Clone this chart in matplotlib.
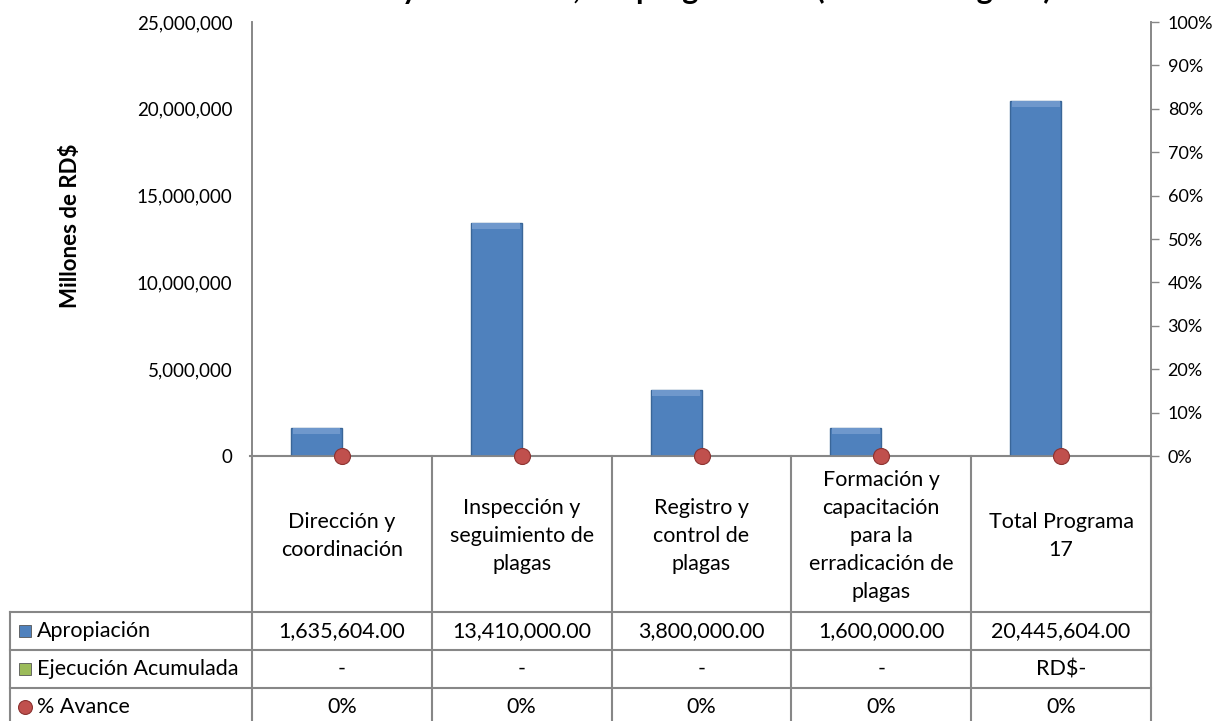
import matplotlib.pyplot as plt
from matplotlib.lines import Line2D
from matplotlib.patches import Rectangle

plt.rcParams['font.family'] = ['Lato', 'DejaVu Sans']

# data
categories = ["Dirección y\ncoordinación", "Inspección y\nseguimiento de\nplagas",
              "Registro y\ncontrol de\nplagas",
              "Formación y\ncapacitación\npara la\nerradicación de\nplagas",
              "Total Programa\n17"]
apropiacion = [1635604.00, 13410000.00, 3800000.00, 1600000.00, 20445604.00]
ejecucion = [0, 0, 0, 0, 0]
ejecucion_labels = ["-", "-", "-", "-", "RD$-"]
avance = [0.0, 0.0, 0.0, 0.0, 0.0]
series_names = ["Apropiación", "Ejecución Acumulada", "% Avance"]
title = "Metas físicas y financieras, del programa 17 (Sanidad Vegetal)"

W, H = 1220, 721
fig = plt.figure(figsize=(W / 100, H / 100), dpi=100)

def fx(px):
    return px / W

def fy(py):
    return 1 - py / H

grey = "#878787"
blue = "#4F81BD"
green = "#9BBB59"
red = "#C0504D"

x_left, x_right, y_top, y_zero = 252, 1151, 22, 456
ax = fig.add_axes([fx(x_left), fy(y_zero), fx(x_right - x_left), (y_zero - y_top) / H])
ax2 = ax.twinx()

n = len(categories)
xs = list(range(n))
w = 0.283
bevel = 350000
ax.bar([x - w / 2 for x in xs], apropiacion, width=w, color=blue,
       edgecolor="#3A6698", linewidth=1.0, zorder=3)
# lighter bevel strip along the top of each bar
ax.bar([x - w / 2 for x in xs], [bevel] * n,
       bottom=[v - bevel for v in apropiacion], width=w * 0.94,
       color="#6F98CC", linewidth=0, zorder=4)
ax.bar([x + w / 2 for x in xs], ejecucion, width=w, color=green,
       edgecolor="#71893F", linewidth=0, zorder=3)
ax2.plot(xs, avance, linestyle="none", marker="o", markersize=11.5,
         markerfacecolor=red, markeredgecolor="#8C3331", markeredgewidth=0.8,
         zorder=5, clip_on=False)

ax.set_xlim(-0.5, n - 0.5)
ax.set_ylim(0, 25000000)
ax2.set_ylim(0, 1)
ax.set_yticks(range(0, 25000001, 5000000))
ax.set_yticklabels([f"{v:,}" for v in range(0, 25000001, 5000000)])
ax2.set_yticks([i / 10 for i in range(11)])
ax2.set_yticklabels([f"{i * 10}%" for i in range(11)])
ax.set_xticks([])

for a in (ax, ax2):
    a.spines["top"].set_visible(False)
    for s in ("left", "right", "bottom"):
        a.spines[s].set_color(grey)
        a.spines[s].set_linewidth(1.2)
ax.tick_params(axis="y", length=0, labelsize=13.5, pad=14)
ax2.tick_params(axis="y", length=6, width=1.0, color=grey, labelsize=13, pad=6)
ax.set_ylabel("Millones de RD$", fontsize=16, fontweight="bold")
ax.yaxis.set_label_coords(-0.19, 0.53)
ax.patch.set_visible(False)

# title (cropped at top in the reference)
fig.text(fx(635), fy(-1), title, ha="center", va="baseline",
         fontsize=22, fontweight="bold")

# data table under the chart
tab = fig.add_axes([0, 0, 1, 1], zorder=-1)
tab.set_xlim(0, W)
tab.set_ylim(H, 0)
tab.axis("off")

col_edges = [x_left + i * (x_right - x_left) / n for i in range(n + 1)]
row_edges = [y_zero, 612, 650, 688, 726]
label_left = 10
lc = dict(color=grey, linewidth=1.5)

for xe in col_edges:
    tab.plot([xe, xe], [y_zero, row_edges[-1]], **lc)
tab.plot([label_left, label_left], [row_edges[1], row_edges[-1]], **lc)
for ye in row_edges[1:]:
    tab.plot([label_left, x_right], [ye, ye], **lc)
tab.plot([x_left - 2, x_right], [y_zero, y_zero], **lc)

fs = 15.5
for i, cat in enumerate(categories):
    cx = (col_edges[i] + col_edges[i + 1]) / 2
    tab.text(cx, (row_edges[0] + row_edges[1]) / 2 + 2, cat, ha="center", va="center",
             fontsize=fs, linespacing=1.5)
    rows = [f"{apropiacion[i]:,.2f}", ejecucion_labels[i], f"{avance[i]:.0%}"]
    for r, txt in enumerate(rows):
        cy = (row_edges[r + 1] + row_edges[r + 2]) / 2
        tab.text(cx, cy, txt, ha="center", va="center", fontsize=fs)

# legend keys in the row labels
key_colors = [blue, green]
for r, name in enumerate(series_names):
    cy = (row_edges[r + 1] + row_edges[r + 2]) / 2
    if r < 2:
        tab.add_patch(Rectangle((19, cy - 6), 12, 12, facecolor=key_colors[r],
                                edgecolor="#555555", linewidth=0.6))
    else:
        tab.add_line(Line2D([25], [cy], marker="o", markersize=10,
                            markerfacecolor=red, markeredgecolor="#8C3331",
                            markeredgewidth=0.8))
    tab.text(37, cy, name, ha="left", va="center", fontsize=fs)

fig.savefig("out.png", dpi=100)
